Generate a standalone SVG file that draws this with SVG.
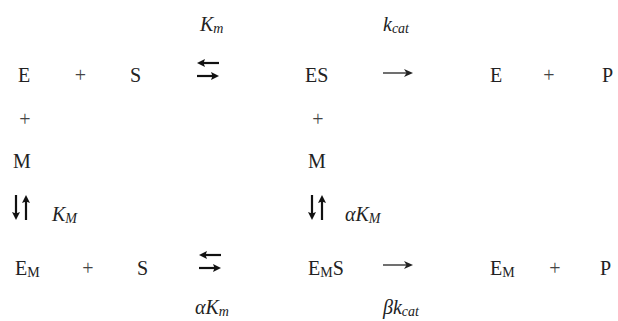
<svg xmlns="http://www.w3.org/2000/svg" width="618" height="321" viewBox="0 0 618 321">
<style>
  text { font-family: "Liberation Serif", "Times New Roman", serif; font-size: 20px; fill: #222; }
  .plus { fill: #444; }
  .it { font-style: italic; }
  .sub { font-size: 14px; }
  .thick { stroke: #111; stroke-width: 2.2; fill: none; marker-end: url(#hb); }
  .thin { stroke: #222; stroke-width: 1.3; fill: none; marker-end: url(#ht); }
</style>
<defs>
  <marker id="hb" markerUnits="userSpaceOnUse" markerWidth="9" markerHeight="9" refX="3" refY="4.5" orient="auto">
    <path d="M0,0.5 L8,4.5 L0,8.5 L1.5,4.5 z" fill="#111"/>
  </marker>
  <marker id="ht" markerUnits="userSpaceOnUse" markerWidth="10" markerHeight="10" refX="3" refY="5" orient="auto">
    <path d="M0,1 L9,5 L0,9 L2.5,5 z" fill="#222"/>
  </marker>
</defs>
<rect width="618" height="321" fill="#fff"/>

<g id="connectors">
  <path class="thick" d="M219,63 H202"/>
  <path class="thick" d="M197,76 H214"/>
  <path class="thin" d="M383,73 H407"/>
  <path class="thick" d="M16,195 V215"/>
  <path class="thick" d="M26,220 V200"/>
  <path class="thick" d="M312,195 V215"/>
  <path class="thick" d="M322,220 V200"/>
  <path class="thick" d="M221,255 H204"/>
  <path class="thick" d="M199,268 H216"/>
  <path class="thin" d="M383,265 H407"/>
</g>

<g id="labels">
  <text id="lbl-Km" class="it" x="200" y="31">K<tspan class="sub" dy="2">m</tspan></text>
  <text id="lbl-kcat" class="it" x="383" y="31">k<tspan class="sub" dy="2">cat</tspan></text>
  <text id="lbl-KM" class="it" x="52" y="221">K<tspan class="sub" dy="2">M</tspan></text>
  <text id="lbl-aKM" class="it" x="345" y="221">αK<tspan class="sub" dy="2">M</tspan></text>
  <text id="lbl-aKm" class="it" x="195" y="314">αK<tspan class="sub" dy="2">m</tspan></text>
  <text id="lbl-bkcat" class="it" x="383" y="314">βk<tspan class="sub" dy="2">cat</tspan></text>
</g>

<g id="node-E1"><text x="18" y="82">E</text></g>
<g id="node-plus1"><text class="plus" x="80.5" y="82" text-anchor="middle">+</text></g>
<g id="node-S1"><text x="130" y="82">S</text></g>
<g id="node-ES"><text x="305" y="82">ES</text></g>
<g id="node-E2"><text x="490" y="82">E</text></g>
<g id="node-plus2"><text class="plus" x="549" y="82" text-anchor="middle">+</text></g>
<g id="node-P1"><text x="602" y="82">P</text></g>

<g id="node-plus3"><text class="plus" x="25" y="126" text-anchor="middle">+</text></g>
<g id="node-plus4"><text class="plus" x="318" y="126" text-anchor="middle">+</text></g>
<g id="node-M1"><text x="13" y="168">M</text></g>
<g id="node-M2"><text x="308" y="168">M</text></g>

<g id="node-EM1"><text x="15" y="275">E<tspan class="sub" dy="2">M</tspan></text></g>
<g id="node-plus5"><text class="plus" x="88" y="275" text-anchor="middle">+</text></g>
<g id="node-S2"><text x="137" y="275">S</text></g>
<g id="node-EMS"><text x="308" y="275">E<tspan class="sub" dy="2">M</tspan><tspan dy="-2">S</tspan></text></g>
<g id="node-EM2"><text x="490" y="275">E<tspan class="sub" dy="2">M</tspan></text></g>
<g id="node-plus6"><text class="plus" x="555" y="275" text-anchor="middle">+</text></g>
<g id="node-P2"><text x="600" y="275">P</text></g>
</svg>
